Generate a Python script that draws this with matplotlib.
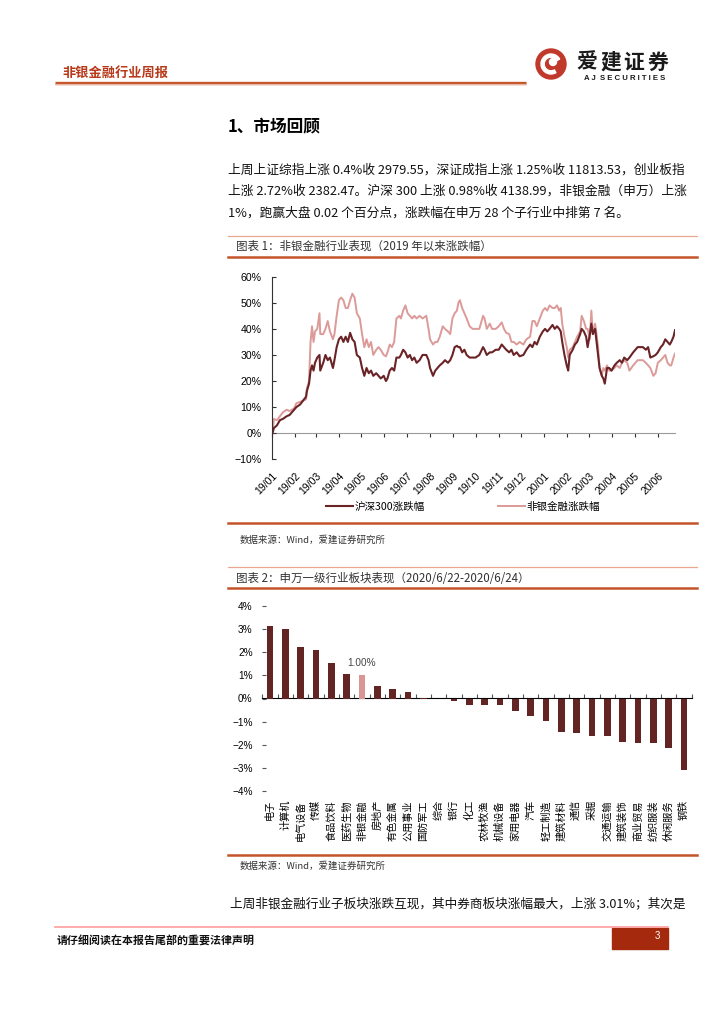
import matplotlib
matplotlib.use("Agg")
import matplotlib.pyplot as plt
import matplotlib.dates as mdates
import matplotlib.patches as mpatches
from matplotlib.ticker import NullFormatter
import pandas as pd
import numpy as np

plt.rcParams['font.family'] = ['Noto Sans CJK SC', 'DejaVu Sans']
plt.rcParams['axes.unicode_minus'] = False

# ---------------- data: chart 1 (cumulative change since 2019, %) ----------------
dates = [
    "2019-01-02", "2019-01-04", "2019-01-08", "2019-01-12", "2019-01-16", "2019-01-21", "2019-01-25", "2019-01-31",
    "2019-02-03", "2019-02-08", "2019-02-12", "2019-02-16", "2019-02-17", "2019-02-20", "2019-02-22", "2019-02-24", "2019-02-26", "2019-02-28",
    "2019-03-03", "2019-03-06", "2019-03-07", "2019-03-11", "2019-03-14", "2019-03-17", "2019-03-20", "2019-03-24", "2019-03-26", "2019-03-29",
    "2019-04-01", "2019-04-04", "2019-04-07", "2019-04-10", "2019-04-13", "2019-04-16", "2019-04-19", "2019-04-22", "2019-04-25", "2019-04-29",
    "2019-05-02", "2019-05-05", "2019-05-08", "2019-05-11", "2019-05-14", "2019-05-17", "2019-05-21", "2019-05-24", "2019-05-27", "2019-05-31",
    "2019-06-03", "2019-06-05", "2019-06-08", "2019-06-11", "2019-06-14", "2019-06-17", "2019-06-21", "2019-06-23", "2019-06-26", "2019-06-29",
    "2019-07-02", "2019-07-05", "2019-07-08", "2019-07-11", "2019-07-14", "2019-07-18", "2019-07-22", "2019-07-27", "2019-07-30",
    "2019-08-01", "2019-08-05", "2019-08-08", "2019-08-11", "2019-08-14", "2019-08-18", "2019-08-21", "2019-08-25", "2019-08-28", "2019-08-31",
    "2019-09-03", "2019-09-06", "2019-09-08", "2019-09-10", "2019-09-13", "2019-09-16", "2019-09-19", "2019-09-23", "2019-09-27",
    "2019-10-01", "2019-10-06", "2019-10-11", "2019-10-13", "2019-10-16", "2019-10-20", "2019-10-23", "2019-10-28",
    "2019-11-01", "2019-11-05", "2019-11-08", "2019-11-11", "2019-11-15", "2019-11-18", "2019-11-21", "2019-11-25", "2019-11-29",
    "2019-12-04", "2019-12-08", "2019-12-13", "2019-12-16", "2019-12-19", "2019-12-22", "2019-12-26", "2019-12-30",
    "2020-01-02", "2020-01-05", "2020-01-08", "2020-01-12", "2020-01-15", "2020-01-18", "2020-01-21", "2020-01-23", "2020-01-25", "2020-01-28", "2020-01-31",
    "2020-02-02", "2020-02-04", "2020-02-08", "2020-02-11", "2020-02-14", "2020-02-18", "2020-02-20", "2020-02-23", "2020-02-26", "2020-02-28",
    "2020-03-02", "2020-03-04", "2020-03-06", "2020-03-09", "2020-03-11", "2020-03-13", "2020-03-15", "2020-03-18", "2020-03-20", "2020-03-22", "2020-03-25", "2020-03-28", "2020-03-31",
    "2020-04-04", "2020-04-07", "2020-04-11", "2020-04-14", "2020-04-17", "2020-04-21", "2020-04-24", "2020-04-29",
    "2020-05-02", "2020-05-05", "2020-05-09", "2020-05-12", "2020-05-16", "2020-05-19", "2020-05-22", "2020-05-26", "2020-05-29",
    "2020-06-01", "2020-06-05", "2020-06-08", "2020-06-11", "2020-06-14", "2020-06-17", "2020-06-19", "2020-06-22", "2020-06-24",
]

hs300_pct = [
    0.0, 2.0, 3.0, 5.0, 5.5, 6.5, 7.0, 9.0,
    10.0, 11.0, 12.5, 14.0, 16.0, 19.0, 24.0, 26.0, 24.0, 27.0,
    29.0, 30.0, 24.0, 27.0, 30.0, 28.0, 29.0, 25.0, 28.0, 33.0,
    36.0, 37.0, 35.0, 37.0, 35.0, 38.5, 36.0, 35.0, 30.0, 29.0,
    25.0, 22.0, 25.0, 23.0, 24.0, 22.0, 23.0, 22.0, 21.0, 22.0,
    20.0, 21.0, 24.0, 25.0, 24.0, 29.0, 29.0, 30.0, 32.0, 31.0,
    29.0, 30.0, 28.0, 29.0, 27.0, 28.0, 30.0, 30.0, 28.0,
    25.0, 22.0, 24.0, 25.0, 26.0, 27.0, 28.0, 27.0, 28.0, 30.0,
    33.0, 33.5, 33.0, 33.0, 31.0, 32.0, 30.0, 29.0, 29.0,
    29.0, 30.0, 33.0, 32.0, 30.0, 31.0, 31.0, 32.0,
    32.0, 34.0, 33.0, 32.0, 31.0, 32.0, 30.0, 31.0, 29.5,
    30.0, 32.0, 34.0, 33.0, 35.0, 34.0, 37.0, 39.0,
    40.0, 39.0, 40.0, 41.5, 40.0, 41.0, 40.0, 39.0, 35.0, 30.0, 26.0,
    24.0, 30.0, 32.0, 34.0, 35.0, 38.0, 40.0, 39.0, 37.0, 33.0,
    38.0, 42.0, 38.0, 40.0, 35.0, 30.0, 25.0, 22.0, 21.0, 19.0, 25.0, 25.0, 24.0,
    26.0, 27.0, 28.0, 27.0, 29.0, 28.0, 29.0, 31.0,
    32.0, 33.0, 33.0, 33.0, 32.0, 33.0, 29.0, 29.5, 30.0,
    31.0, 33.0, 34.0, 36.0, 35.0, 34.0, 35.0, 37.0, 39.5,
]

nonbank_pct = [
    0.0, 5.5, 5.0, 6.5, 8.0, 9.0, 8.5, 9.5,
    11.5, 12.0, 12.5, 13.0, 17.0, 20.0, 35.0, 41.0, 35.0, 39.0,
    40.0, 46.0, 38.0, 38.0, 40.0, 43.0, 39.0, 36.0, 38.0, 45.0,
    51.0, 52.0, 51.0, 48.0, 48.0, 51.0, 53.5, 52.0, 46.0, 44.0,
    38.0, 33.0, 36.0, 33.0, 35.0, 30.0, 32.0, 33.0, 32.0, 30.0,
    29.5, 31.0, 34.0, 33.0, 35.0, 44.0, 45.0, 44.0, 47.0, 49.0,
    46.0, 45.0, 44.0, 45.0, 44.0, 45.0, 44.0, 45.0, 40.0,
    36.0, 34.0, 35.0, 35.0, 37.0, 41.0, 40.0, 39.0, 38.0, 44.0,
    46.0, 47.0, 50.0, 51.0, 48.0, 46.0, 44.0, 41.0, 40.0,
    40.0, 40.0, 45.0, 44.0, 40.0, 42.0, 40.0, 40.0,
    41.0, 42.5, 40.0, 38.5, 38.0, 35.0, 35.0, 34.0, 35.0,
    34.0, 36.0, 37.0, 43.0, 43.0, 41.0, 44.0, 47.0,
    48.0, 47.0, 49.0, 48.0, 48.0, 49.0, 47.0, 48.0, 42.0, 37.0, 33.0,
    29.0, 32.0, 33.0, 35.0, 37.0, 39.0, 45.0, 43.0, 40.0, 40.0,
    36.0, 47.0, 38.0, 42.0, 38.0, 33.0, 25.0, 22.0, 25.0, 24.0, 26.0, 24.0, 24.0,
    25.0, 26.0, 25.0, 27.0, 28.0, 27.0, 24.0, 26.0,
    27.0, 28.0, 28.0, 28.0, 27.0, 26.0, 25.0, 22.0, 23.0,
    27.0, 28.0, 29.0, 30.0, 27.0, 26.0, 26.0, 29.0, 30.5,
]

series1_names = ["沪深300涨跌幅", "非银金融涨跌幅"]
month_ticks = pd.date_range("2019-01-01", "2020-06-01", freq="MS")
x_end = "2020-06-24"
y1_ticks = [-10, 0, 10, 20, 30, 40, 50, 60]

# ---------------- data: chart 2 (SW level-1 industries, %) ----------------
industries = ["电子", "计算机", "电气设备", "传媒", "食品饮料", "医药生物", "非银金融", "房地产",
              "有色金属", "公用事业", "国防军工", "综合", "银行", "化工", "农林牧渔", "机械设备",
              "家用电器", "汽车", "轻工制造", "建筑材料", "通信", "采掘", "交通运输", "建筑装饰",
              "商业贸易", "纺织服装", "休闲服务", "钢铁"]
changes = [3.15, 3.01, 2.23, 2.08, 1.53, 1.07, 1.00, 0.56,
           0.39, 0.30, 0.02, -0.01, -0.09, -0.26, -0.30, -0.30,
           -0.52, -0.74, -0.99, -1.46, -1.50, -1.64, -1.64, -1.87,
           -1.91, -1.91, -2.14, -3.10]
highlight = "非银金融"
y2_ticks = [-4, -3, -2, -1, 0, 1, 2, 3, 4]

# ---------------- colours ----------------
DARK = "#6A2326"
PINK = "#DC9A98"
BAR_DARK = "#632523"
BAR_HI = "#D99694"
ORANGE = "#C4552B"
LIGHT_LINE = "#EBA891"
HEAD_RED = "#B83A1A"

W, H = 724, 1024
fig = plt.figure(figsize=(W / 100, H / 100), dpi=100)

page = fig.add_axes([0, 0, 1, 1])
page.set_xlim(0, W)
page.set_ylim(H, 0)
page.axis("off")


def frac(l, t, r, b):
    return [l / W, 1 - b / H, (r - l) / W, (b - t) / H]


NUM = ["Liberation Sans", "DejaVu Sans"]
CJK = ["Noto Sans CJK SC", "DejaVu Sans"]

# ---------------- page header ----------------
page.text(62, 73, "非银金融行业周报", color=HEAD_RED, fontsize=9.5, fontweight="bold", va="center")
page.plot([55, 526], [82.5, 82.5], color=ORANGE, lw=2.4, solid_capstyle="butt")
page.plot([55, 526], [84.3, 84.3], color="#E9B7A6", lw=0.8, solid_capstyle="butt")
# logo
page.add_patch(mpatches.Ellipse((551, 64), 30, 30, color="#C0392B"))
page.add_patch(mpatches.Wedge((551, 64), 10, 60, 330, width=3.2, color="white"))
page.add_patch(mpatches.Ellipse((553, 62), 7, 7, color="white"))
for i, ch in enumerate("爱建证券"):
    page.text(587 + i * 23.5, 62, ch, fontsize=15, fontweight="bold", ha="center", va="center",
              color="#1a1a1a")
page.text(625, 78, "A J  S E C U R I T I E S", fontsize=5.6, fontweight="bold", ha="center", va="center",
          color="#1a1a1a", family=NUM)

# ---------------- section text ----------------
page.text(228, 127, "1、市场回顾", fontsize=12, fontweight="bold", va="center")
para = [
    "上周上证综指上涨 0.4%收 2979.55，深证成指上涨 1.25%收 11813.53，创业板指",
    "上涨 2.72%收 2382.47。沪深 300 上涨 0.98%收 4138.99，非银金融（申万）上涨",
    "1%，跑赢大盘 0.02 个百分点，涨跌幅在申万 28 个子行业中排第 7 名。",
]
for i, line in enumerate(para):
    page.text(228, 170 + i * 21.5, line, fontsize=9.2, va="center", color="#111")

# ---------------- chart 1 frame ----------------
page.plot([228, 697], [236, 236], color=LIGHT_LINE, lw=0.9)
page.text(236, 246, "图表 1：非银金融行业表现（2019 年以来涨跌幅）", fontsize=8.3, va="center", color="#333")
page.plot([228, 697], [256.5, 256.5], color=ORANGE, lw=1.8)
page.plot([228, 697], [523, 523], color=ORANGE, lw=1.8)
page.text(240, 540, "数据来源：Wind，爱建证券研究所", fontsize=6.8, va="center", color="#333")

# ---------------- chart 1 ----------------
ax1 = fig.add_axes(frac(271.7, 276.7, 675, 459.3))
xd = mdates.date2num(pd.to_datetime(dates))
l_pink, = ax1.plot(xd, nonbank_pct, color=PINK, lw=1.4, label=series1_names[1])
l_dark, = ax1.plot(xd, hs300_pct, color=DARK, lw=1.5, label=series1_names[0])
ax1.set_xlim(mdates.date2num(month_ticks[0]), mdates.date2num(pd.Timestamp(x_end)))
ax1.set_ylim(y1_ticks[0], y1_ticks[-1])
ax1.set_yticks(y1_ticks)
ax1.set_yticklabels([("−" if v < 0 else "") + f"{abs(v)}%" for v in y1_ticks], family=NUM, fontsize=7.6)
ax1.tick_params(axis="y", direction="in", length=3, width=0.8, pad=7.5, color="#333")
mt = mdates.date2num(month_ticks)
ax1.set_xticks(mt)
ax1.set_xticklabels([d.strftime("%y/%m") for d in month_ticks], rotation=45, ha="right",
                    rotation_mode="anchor", family=NUM, fontsize=7.6)
ax1.tick_params(axis="x", length=0, pad=8)
for s in ["top", "right", "bottom"]:
    ax1.spines[s].set_visible(False)
ax1.spines["left"].set_color("#333")
ax1.spines["left"].set_linewidth(0.8)
ax1.set_facecolor("none")
zero1 = ax1.secondary_xaxis((0 - y1_ticks[0]) / (y1_ticks[-1] - y1_ticks[0]))
zero1.set_xticks(mt)
zero1.xaxis.set_major_formatter(NullFormatter())
zero1.tick_params(direction="out", length=3, width=0.8, color="#333")
zero1.spines["bottom"].set_color("#9a9a9a")
zero1.spines["bottom"].set_linewidth(0.8)

fig.legend(handles=[l_dark, l_pink], loc="center", bbox_to_anchor=(463 / W, 1 - 507 / H), ncol=2,
           frameon=False, handlelength=2.6, handletextpad=0.15, columnspacing=6.9,
           prop={"family": CJK, "size": 7.6})

# ---------------- chart 2 frame ----------------
page.plot([228, 697], [567, 567], color=LIGHT_LINE, lw=0.9)
page.text(236, 578, "图表 2：申万一级行业板块表现（2020/6/22-2020/6/24）", fontsize=8.3, va="center", color="#333")
page.plot([228, 697], [588, 588], color=ORANGE, lw=1.8)
page.plot([228, 697], [855, 855], color=ORANGE, lw=1.8)
page.text(240, 866, "数据来源：Wind，爱建证券研究所", fontsize=6.8, va="center", color="#333")

# ---------------- chart 2 ----------------
ax2 = fig.add_axes(frac(262.3, 606, 691.7, 791))
xi = np.arange(len(industries))
colors = [BAR_HI if n == highlight else BAR_DARK for n in industries]
ax2.bar(xi, changes, width=0.43, color=colors, zorder=2)
hi = industries.index(highlight)
ax2.annotate(f"{changes[hi]:.2f}%", (xi[hi], changes[hi]), xytext=(0, 9), textcoords="offset points",
             ha="center", va="center", fontsize=7.2, color="#444", family=NUM)
ax2.set_xlim(-0.5, len(industries) - 0.5)
ax2.set_ylim(y2_ticks[0], y2_ticks[-1])
ax2.set_yticks(y2_ticks)
ax2.set_yticklabels([("−" if v < 0 else "") + f"{abs(v)}%" for v in y2_ticks], family=NUM, fontsize=7.2)
ax2.tick_params(axis="y", direction="in", length=3, width=0.8, pad=7, color="#555")
ax2.set_xticks(xi)
ax2.set_xticklabels(industries, rotation=90, va="top", ha="center", fontsize=7.3, family=CJK)
ax2.tick_params(axis="x", length=0, pad=6.5)
for s in ["top", "right", "bottom", "left"]:
    ax2.spines[s].set_visible(False)
ax2.set_facecolor("none")
zero2 = ax2.secondary_xaxis(0.5)
zero2.set_xticks(np.arange(len(industries) + 1) - 0.5)
zero2.xaxis.set_major_formatter(NullFormatter())
zero2.tick_params(direction="out", length=3, width=0.8, color="#555")
zero2.spines["bottom"].set_color("#9a9a9a")
zero2.spines["bottom"].set_linewidth(0.9)

# ---------------- closing text & footer ----------------
page.text(230, 904, "上周非银金融行业子板块涨跌互现，其中券商板块涨幅最大，上涨 3.01%；其次是",
          fontsize=9.1, va="center", color="#111")
page.plot([55, 668], [927, 927], color="#FF9C9C", lw=1.2)
page.add_patch(mpatches.Rectangle((612, 927.5), 56, 21, color="#A52A0D"))
page.text(657, 936, "3", fontsize=7, color="white", ha="center", va="center", family=NUM)
page.text(57, 940, "请仔细阅读在本报告尾部的重要法律声明", fontsize=7.9, fontweight="bold", va="center", color="#111")

fig.savefig("out.png", dpi=100, facecolor="white")
